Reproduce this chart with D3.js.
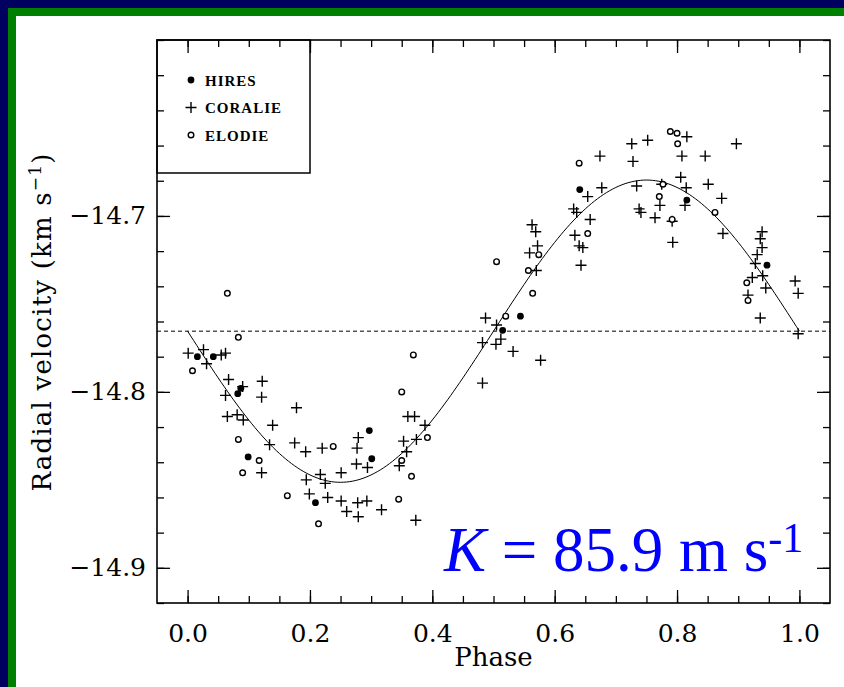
<!DOCTYPE html>
<html>
<head>
<meta charset="utf-8">
<script src="https://cdn.jsdelivr.net/npm/d3@7"></script>
<style>
  body { margin: 0; background: #000060; }
  svg { display: block; }
  .axis text { font-family: "DejaVu Serif", serif; font-size: 25px; fill: #000; }
  .axis line { stroke: #000; stroke-width: 1.3; }
</style>
</head>
<body>
<script>
// fit parameters (km/s)
const gamma = -14.7655;
const K = 0.0859;

// phase, radial velocity
const hires = [
  [0.016,-14.780],[0.042,-14.780],[0.087,-14.798],[0.082,-14.801],[0.099,-14.837],
  [0.209,-14.863],[0.297,-14.822],[0.301,-14.838],[0.515,-14.765],[0.544,-14.757],
  [0.641,-14.685],[0.816,-14.691],[0.947,-14.728]
];

const elodie = [
  [0.065,-14.744],[0.083,-14.769],[0.008,-14.788],[0.083,-14.827],[0.117,-14.839],
  [0.090,-14.846],[0.238,-14.831],[0.163,-14.859],[0.214,-14.875],[0.345,-14.861],
  [0.366,-14.848],[0.350,-14.839],[0.392,-14.826],[0.350,-14.800],[0.369,-14.779],
  [0.505,-14.726],[0.520,-14.757],[0.564,-14.744],[0.557,-14.731],[0.574,-14.722],
  [0.640,-14.670],[0.654,-14.710],[0.789,-14.652],[0.800,-14.653],[0.801,-14.659],
  [0.777,-14.682],[0.771,-14.689],[0.792,-14.702],[0.862,-14.698],[0.914,-14.738],
  [0.916,-14.748]
];

const coralie = [
  [0.001,-14.778],[0.026,-14.776],[0.055,-14.779],[0.062,-14.778],[0.031,-14.784],
  [0.067,-14.793],[0.090,-14.797],[0.122,-14.794],[0.062,-14.802],[0.121,-14.803],
  [0.178,-14.809],[0.081,-14.813],[0.065,-14.814],[0.091,-14.816],[0.139,-14.819],
  [0.134,-14.830],[0.175,-14.829],[0.193,-14.834],[0.220,-14.832],[0.121,-14.846],
  [0.194,-14.850],[0.217,-14.847],[0.225,-14.852],[0.251,-14.846],[0.199,-14.858],
  [0.229,-14.860],[0.251,-14.862],[0.278,-14.863],[0.293,-14.862],[0.260,-14.868],
  [0.279,-14.871],[0.317,-14.867],[0.373,-14.873],[0.279,-14.826],[0.277,-14.832],
  [0.276,-14.841],[0.294,-14.843],[0.346,-14.842],[0.353,-14.828],[0.374,-14.827],
  [0.388,-14.819],[0.360,-14.814],[0.371,-14.814],[0.358,-14.834],
  [0.487,-14.758],[0.505,-14.762],[0.512,-14.770],[0.482,-14.772],[0.504,-14.773],
  [0.532,-14.777],[0.577,-14.782],[0.482,-14.795],[0.569,-14.709],[0.572,-14.717],
  [0.559,-14.721],[0.570,-14.731],[0.633,-14.711],[0.640,-14.717],[0.646,-14.718],
  [0.643,-14.728],[0.563,-14.705],[0.631,-14.696],[0.636,-14.698],[0.654,-14.689],
  [0.658,-14.702],[0.677,-14.684],[0.674,-14.666],[0.726,-14.659],[0.728,-14.669],
  [0.752,-14.657],[0.816,-14.655],[0.808,-14.666],[0.846,-14.666],[0.897,-14.659],
  [0.734,-14.683],[0.806,-14.678],[0.775,-14.682],[0.772,-14.694],[0.738,-14.696],
  [0.741,-14.698],[0.764,-14.701],[0.792,-14.703],[0.793,-14.715],[0.813,-14.694],
  [0.815,-14.684],[0.851,-14.682],[0.873,-14.690],[0.875,-14.710],[0.939,-14.709],
  [0.936,-14.713],[0.939,-14.718],[0.931,-14.722],[0.928,-14.727],[0.940,-14.734],
  [0.945,-14.741],[0.923,-14.735],[0.916,-14.745],[0.936,-14.758],[0.993,-14.737],
  [0.998,-14.744],[0.998,-14.767]
];

const xMajor = [0, 0.2, 0.4, 0.6, 0.8, 1.0];
const xMinor = d3.range(0, 21).map(i => i * 0.05);
const yMajor = [-14.9, -14.8, -14.7];
const yMinor = d3.range(0, 17).map(i => -14.92 + i * 0.02);
const legendLabels = ["HIRES", "CORALIE", "ELODIE"];

const W = 844, H = 687;
const svg = d3.select("body").append("svg").attr("width", W).attr("height", H);

// slide background
svg.append("rect").attr("width", W).attr("height", H).attr("fill", "#000060");
svg.append("rect").attr("x", 8).attr("y", 8).attr("width", W - 8).attr("height", H - 8).attr("fill", "#008000");
svg.append("rect").attr("x", 16).attr("y", 16).attr("width", W - 16).attr("height", H - 16).attr("fill", "#fff");

const pLeft = 157, pRight = 830, pTop = 40, pBottom = 603;
const x = d3.scaleLinear().domain([-0.05, 1.05]).range([pLeft, pRight]);
const y = d3.scaleLinear().domain([-14.92, -14.6]).range([pBottom, pTop]);

//axes on all four sides, ticks pointing in
function addAxis(axis, tx, ty) {
  let g = svg.append("g").attr("class", "axis").attr("transform", "translate(" + tx + "," + ty + ")").call(axis);
  g.select(".domain").remove();
  return g;
}
addAxis(d3.axisBottom(x).tickValues(xMinor).tickSize(-7).tickFormat(""), 0, pBottom);
addAxis(d3.axisBottom(x).tickValues(xMajor).tickSize(-13).tickPadding(21).tickFormat(d3.format(".1f")), 0, pBottom);
addAxis(d3.axisTop(x).tickValues(xMinor).tickSize(-7).tickFormat(""), 0, pTop);
addAxis(d3.axisTop(x).tickValues(xMajor).tickSize(-13).tickFormat(""), 0, pTop);
addAxis(d3.axisLeft(y).tickValues(yMinor).tickSize(-7).tickFormat(""), pLeft, 0);
addAxis(d3.axisLeft(y).tickValues(yMajor).tickSize(-13).tickPadding(11).tickFormat(d3.format(".1f")), pLeft, 0);
addAxis(d3.axisRight(y).tickValues(yMinor).tickSize(-7).tickFormat(""), pRight, 0);
addAxis(d3.axisRight(y).tickValues(yMajor).tickSize(-13).tickFormat(""), pRight, 0);

svg.append("rect")
  .attr("x", pLeft).attr("y", pTop)
  .attr("width", pRight - pLeft).attr("height", pBottom - pTop)
  .attr("fill", "none").attr("stroke", "#000").attr("stroke-width", 1.6);

// systemic velocity
svg.append("line")
  .attr("x1", pLeft).attr("x2", pRight)
  .attr("y1", y(gamma)).attr("y2", y(gamma))
  .attr("stroke", "#000").attr("stroke-width", 1)
  .attr("stroke-dasharray", "4,3");

// orbital fit
let line = d3.line().x(d => x(d)).y(d => y(gamma - K * Math.sin(2 * Math.PI * d)));
svg.append("path")
  .datum(d3.range(0, 1.0001, 0.005))
  .attr("d", line)
  .attr("fill", "none").attr("stroke", "#000").attr("stroke-width", 1);

const plus = "M-5.5,0H5.5M0,-5.5V5.5";

svg.selectAll(".coralie").data(coralie).enter()
  .append("path").attr("class", "coralie")
  .attr("d", plus)
  .attr("transform", d => "translate(" + x(d[0]) + "," + y(d[1]) + ")")
  .attr("stroke", "#000").attr("stroke-width", 1.4);

svg.selectAll(".elodie").data(elodie).enter()
  .append("circle").attr("class", "elodie")
  .attr("cx", d => x(d[0])).attr("cy", d => y(d[1])).attr("r", 2.8)
  .attr("fill", "#fff").attr("stroke", "#000").attr("stroke-width", 1.4);

svg.selectAll(".hires").data(hires).enter()
  .append("circle").attr("class", "hires")
  .attr("cx", d => x(d[0])).attr("cy", d => y(d[1])).attr("r", 3.4)
  .attr("fill", "#000");

// legend
svg.append("rect")
  .attr("x", pLeft).attr("y", pTop).attr("width", 153).attr("height", 133)
  .attr("fill", "none").attr("stroke", "#000").attr("stroke-width", 1.5);

let lg = svg.append("g");
legendLabels.forEach((name, i) => {
  let cy = 80 + i * 27.5;
  if (i == 0) lg.append("circle").attr("cx", 191).attr("cy", cy).attr("r", 3.4).attr("fill", "#000");
  else if (i == 1) lg.append("path").attr("d", plus).attr("transform", "translate(191," + cy + ")").attr("stroke", "#000").attr("stroke-width", 1.4);
  else lg.append("circle").attr("cx", 191).attr("cy", cy).attr("r", 2.8).attr("fill", "#fff").attr("stroke", "#000").attr("stroke-width", 1.4);
  lg.append("text")
    .attr("x", 205).attr("y", cy + 5.5)
    .attr("font-family", "Liberation Serif, serif")
    .attr("font-weight", "bold")
    .attr("font-size", 15)
    .attr("letter-spacing", 1)
    .text(name);
});

// axis titles
svg.append("text")
  .attr("x", (pLeft + pRight) / 2).attr("y", 666)
  .attr("text-anchor", "middle")
  .attr("font-family", "DejaVu Serif, serif").attr("font-size", 26)
  .text("Phase");

let yt = svg.append("text")
  .attr("transform", "translate(51,322) rotate(-90)")
  .attr("text-anchor", "middle")
  .attr("font-family", "DejaVu Serif, serif").attr("font-size", 26)
  .attr("letter-spacing", 1.2);
yt.append("tspan").text("Radial velocity (km s");
yt.append("tspan").attr("dy", -10).attr("font-size", 17).text("\u22121");
yt.append("tspan").attr("dy", 10).text(")");

// semi-amplitude annotation
let kt = svg.append("text")
  .attr("x", 444).attr("y", 571)
  .attr("font-family", "Liberation Serif, Times New Roman, serif")
  .attr("font-size", 63)
  .attr("fill", "#0000ff")
  .style("white-space", "pre");
kt.append("tspan").attr("font-style", "italic").text("K");
kt.append("tspan").text(" = 85.9 m s");
kt.append("tspan").attr("font-size", 42).attr("dy", -19).text("-1");
</script>
</body>
</html>
